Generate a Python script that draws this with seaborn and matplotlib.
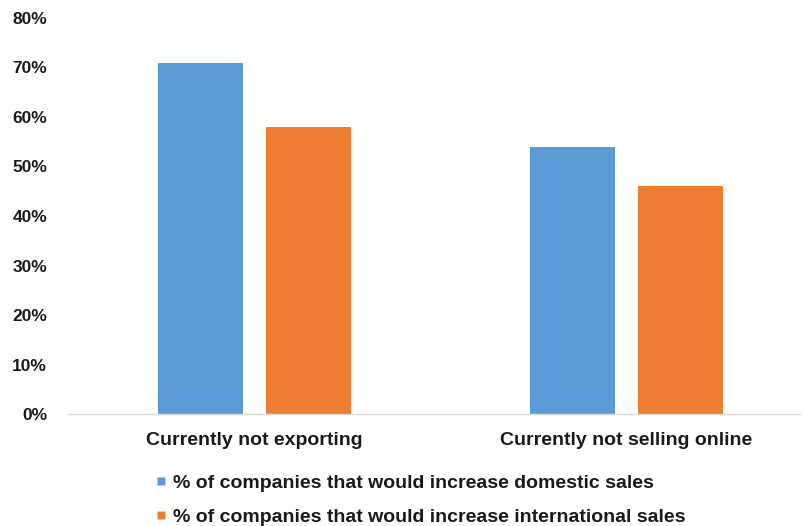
import matplotlib
matplotlib.use("Agg")
import matplotlib.pyplot as plt
import matplotlib.ticker as mticker
from matplotlib.lines import Line2D
import pandas as pd
import seaborn as sns

categories = ["Currently not exporting", "Currently not selling online"]
series_names = [
    "% of companies that would increase domestic sales",
    "% of companies that would increase international sales",
]
domestic = [71, 54]
international = [58, 46]
colors = ["#5B9BD5", "#ED7D31"]

df = pd.DataFrame({
    "category": categories * 2,
    "series": [series_names[0]] * 2 + [series_names[1]] * 2,
    "value": domestic + international,
})

sns.set_theme(style="white")
plt.rcParams["font.family"] = ["Liberation Sans", "DejaVu Sans"]

fig = plt.figure(figsize=(8.02, 5.26), dpi=100)
ax = fig.add_axes([0.0848, 0.2129, 0.9127, 0.7529])

sns.barplot(data=df, x="category", y="value", hue="series",
            palette=colors, width=0.58, gap=0.21, saturation=1,
            ax=ax, legend=False, edgecolor="none")

ax.set_ylim(0, 80)
ax.set_xlim(-0.5, 1.466)
ax.yaxis.set_major_locator(mticker.MultipleLocator(10))
ax.yaxis.set_major_formatter(mticker.FuncFormatter(lambda v, p: f"{v:.0f}%"))
ax.set_xlabel("")
ax.set_ylabel("")

for side in ["top", "right", "left"]:
    ax.spines[side].set_visible(False)
ax.spines["bottom"].set_color("#D9D9D9")
ax.spines["bottom"].set_linewidth(1.0)

ax.tick_params(axis="y", length=0, pad=15, labelsize=12.5, labelcolor="#1a1a1a")
ax.tick_params(axis="x", length=0, pad=13, labelsize=14, labelcolor="#1a1a1a")
for lbl in ax.get_yticklabels():
    lbl.set_fontweight("bold")
for lbl in ax.get_xticklabels():
    lbl.set_fontweight("bold")

# square swatches for the legend entries
handles = [Line2D([], [], linestyle="none", marker="s", markersize=5.2,
                  markerfacecolor=c, markeredgecolor="none") for c in colors]
fig.legend(handles, series_names, loc="upper left",
           bbox_to_anchor=(0.197, 0.099), frameon=False, ncol=1,
           handlelength=0.36, handletextpad=0.41,
           labelspacing=0.86, borderaxespad=0, borderpad=0,
           prop={"size": 14, "weight": "bold"}, labelcolor="#1a1a1a")

fig.savefig("out.png", dpi=100)
